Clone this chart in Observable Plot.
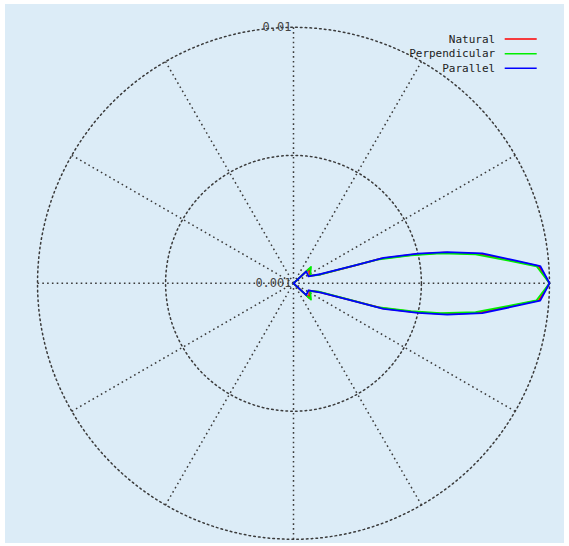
<!DOCTYPE html>
<html><head><meta charset="utf-8">
<script src="https://cdn.jsdelivr.net/npm/d3@7"></script>
<script src="https://cdn.jsdelivr.net/npm/@observablehq/plot@0.6"></script>
<style>
body{margin:0;background:#fff;}
#chart{position:absolute;left:5px;top:4px;width:559px;height:539px;background:#dcecf7;}
</style></head><body><div id="chart"></div>
<script>
// scattering angle (degrees) and values (log radial axis)
const angles        = [0,      4,       6,       9,       11.5,    13.4,    15.8,    16.3,    18.6,    25,      43,      60,    180];
const natural       = [0.0100, 0.00912, 0.00716, 0.00543, 0.00398, 0.00306, 0.00226, 0.00174, 0.00128, 0.00117, 0.00121, 0.001, 0.001];
const perpendicular = [0.0100, 0.00895, 0.00700, 0.00525, 0.00385, 0.00296, 0.00219, 0.00170, 0.00126, 0.00118, 0.00124, 0.001, 0.001];
const parallel      = [0.0100, 0.00925, 0.00732, 0.00558, 0.00410, 0.00316, 0.00232, 0.00178, 0.00130, 0.00116, 0.00117, 0.001, 0.001];
const seriesNames  = ["Natural", "Perpendicular", "Parallel"];
const seriesColors = ["#ff0000", "#00ee00", "#0000ff"];
const tickValues = [0.01, 0.001];
const tickLabels = ["0.01", "0.001"];
const gridRadii  = [0.01, 0.00316];
const spokeAngles = [0, 30, 60, 90, 120, 150, 180, 210, 240, 270, 300, 330];
const rMin = 0.001, rMax = 0.01;

const rad = v => Math.max(0, Math.log10(v / rMin) / Math.log10(rMax / rMin));
const toRad = a => a * Math.PI / 180;

function curve(name, vals) {
  const pts = [];
  angles.forEach((a, i) => pts.push({a, v: vals[i]}));
  for (let i = angles.length - 1; i >= 0; i--) pts.push({a: 360 - angles[i], v: vals[i]});
  return pts.map(p => ({series: name, x: rad(p.v) * Math.cos(toRad(p.a)), y: rad(p.v) * Math.sin(toRad(p.a))}));
}
const seriesData = [natural, perpendicular, parallel];
const lines = seriesNames.flatMap((n, i) => curve(n, seriesData[i]));

const circlePts = gridRadii.flatMap(g => d3.range(0, 361, 2).map(a => ({g, x: rad(g) * Math.cos(toRad(a)), y: rad(g) * Math.sin(toRad(a))})));
const spokes = spokeAngles.map(a => ({a, x: Math.cos(toRad(a)), y: Math.sin(toRad(a))}));
const ticks = tickValues.map((v, i) => ({label: tickLabels[i], y: rad(v)}));
const legend = seriesNames.map((name, i) => ({name, color: seriesColors[i], row: i}));
const legY = d => 0.954 - d.row * 0.057;

const grid = {stroke: "#3a3a3a", strokeWidth: 1.5, strokeDasharray: "1.6,3.2"};

const chart = Plot.plot({
  width: 559, height: 539,
  marginLeft: 32, marginRight: 15, marginTop: 22.8, marginBottom: 4.2,
  x: {domain: [-1, 1], axis: null},
  y: {domain: [-1, 1], axis: null},
  style: {background: "transparent", fontFamily: "DejaVu Sans Mono"},
  marks: [
    Plot.line(circlePts, {x: "x", y: "y", z: "g", ...grid}),
    Plot.link(spokes, {x1: () => 0, y1: () => 0, x2: "x", y2: "y", ...grid}),
    Plot.text(ticks, {x: () => 0, y: "y", text: "label", textAnchor: "end", dx: -2, fontSize: 12, fill: "#444"}),
    Plot.line(lines, {x: "x", y: "y", z: "series", stroke: "series", strokeWidth: 1.8}),
    Plot.text(legend, {x: () => 0.788, y: legY, text: "name", textAnchor: "end", fontSize: 11, fill: "#222"}),
    Plot.link(legend, {x1: () => 0.825, x2: () => 0.95, y1: legY, y2: legY, stroke: "color", strokeWidth: 1.5})
  ],
  color: {domain: seriesNames, range: seriesColors}
});
document.getElementById("chart").appendChild(chart);
</script></body></html>
